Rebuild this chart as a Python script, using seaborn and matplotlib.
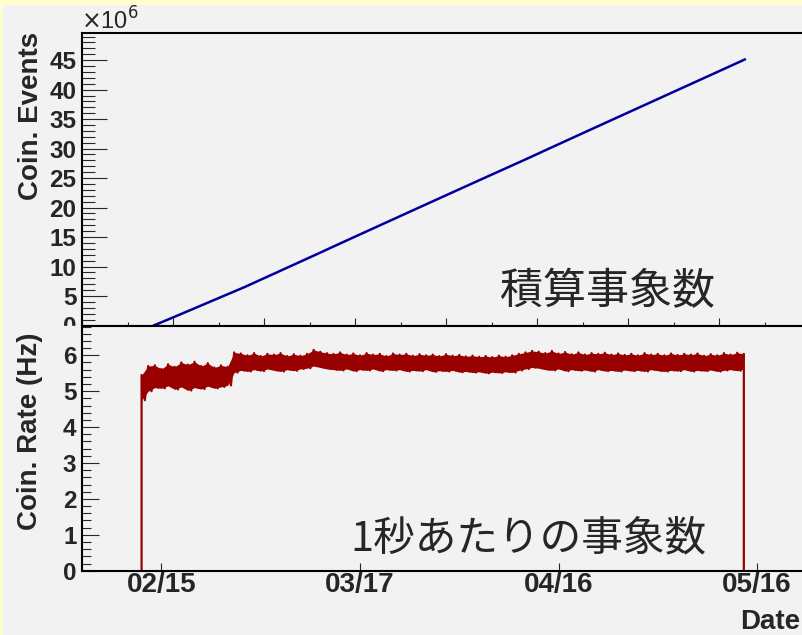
import numpy as np
import pandas as pd
import matplotlib
matplotlib.use("Agg")
import matplotlib.pyplot as plt
from matplotlib.patches import Rectangle
from matplotlib.ticker import MultipleLocator
import seaborn as sns

# ---- data -------------------------------------------------------------
start_day = "2015-02-12"
# daily upper / lower excursion of the coincidence rate (Hz)
rate_hi = [5.45, 5.70, 5.72, 5.62, 5.75, 5.68, 5.80, 5.74, 5.82, 5.70,
           5.78, 5.66, 5.72, 5.68, 6.08, 6.05, 6.00, 6.06, 5.98, 6.04,
           6.02, 6.06, 5.98, 6.03, 5.99, 6.04, 6.15, 6.10, 6.06, 6.04,
           6.08, 6.02, 6.05, 6.00, 6.06, 6.02, 6.04, 5.98, 6.05, 6.02,
           6.04, 5.99, 6.03, 6.00, 6.02, 5.98, 6.03, 5.99, 6.01, 5.97,
           5.99, 5.96, 5.98, 5.95, 5.99, 5.96, 6.00, 6.04, 6.08, 6.12,
           6.10, 6.06, 6.12, 6.05, 6.09, 6.03, 6.08, 6.02, 6.06, 6.04,
           6.07, 6.02, 6.05, 6.01, 6.04, 6.00, 6.06, 6.02, 6.04, 6.00,
           6.05, 6.01, 6.04, 6.02, 6.05, 5.99, 6.03, 6.00, 6.06, 6.02,
           6.07, 6.04]
rate_lo = [4.75, 5.00, 5.10, 5.08, 5.15, 5.05, 5.12, 5.02, 5.10, 5.06,
           5.14, 5.08, 5.12, 5.16, 5.52, 5.58, 5.55, 5.60, 5.56, 5.62,
           5.58, 5.55, 5.60, 5.57, 5.62, 5.64, 5.70, 5.66, 5.62, 5.60,
           5.58, 5.62, 5.56, 5.60, 5.58, 5.62, 5.56, 5.60, 5.58, 5.60,
           5.55, 5.58, 5.56, 5.60, 5.54, 5.57, 5.55, 5.58, 5.53, 5.55,
           5.52, 5.54, 5.50, 5.53, 5.51, 5.54, 5.52, 5.58, 5.62, 5.66,
           5.64, 5.60, 5.58, 5.62, 5.56, 5.60, 5.57, 5.59, 5.55, 5.60,
           5.56, 5.58, 5.55, 5.59, 5.56, 5.58, 5.55, 5.60, 5.57, 5.55,
           5.58, 5.56, 5.60, 5.55, 5.58, 5.56, 5.59, 5.55, 5.58, 5.60,
           5.57, 5.62]
tick_dates = ["2015-02-15", "2015-03-17", "2015-04-16", "2015-05-16"]
tick_labels = ["02/15", "03/17", "04/16", "05/16"]
events_ticks = [0, 5, 10, 15, 20, 25, 30, 35, 40, 45]
rate_ticks = [0, 1, 2, 3, 4, 5, 6]
label_events = "積算事象数"
label_rate = "1秒あたりの事象数"

# ---- derived series ---------------------------------------------------
days = pd.date_range(start_day, periods=len(rate_hi), freq="D")
hi = np.asarray(rate_hi)
lo = np.asarray(rate_lo)
daily_mean = (hi + lo) / 2.0
# accumulated number of coincidences at each midnight
events = np.concatenate([[0.0], np.cumsum(daily_mean[:-1] * 86400.0)])
df_events = pd.DataFrame({"date": days, "events": events / 1e6})

# rate trace swinging between the daily upper and lower values,
# dropping to zero outside the run period
t_pts, r_pts = [days[0]], [0.0]
for i in range(len(days)):
    t_pts.append(days[i]); r_pts.append(hi[i])
    if i < len(days) - 1:
        t_pts.append(days[i] + pd.Timedelta(hours=12)); r_pts.append(lo[i])
t_pts.append(days[-1]); r_pts.append(0.0)
df_rate = pd.DataFrame({"date": t_pts, "rate": r_pts})

# ---- style ------------------------------------------------------------
sns.set_style("ticks")
plt.rcParams["font.family"] = ["Liberation Sans", "Noto Sans CJK JP"]
plt.rcParams["axes.linewidth"] = 1.5

W, H = 802, 635
fig = plt.figure(figsize=(W / 100, H / 100), dpi=100, facecolor="#ffffcc")


def fx(px):
    return px / W


def fy(py):
    return 1 - py / H


PANEL = "#f2f2f2"
RED = "#990000"
BLUE = "#000099"
fig.patches.append(Rectangle((fx(3), 0), 1, fy(5), transform=fig.transFigure,
                             color=PANEL, zorder=-10))

x_left, x_right = 82, 812
ax1 = fig.add_axes([fx(x_left), fy(325.5), fx(x_right) - fx(x_left), fy(33) - fy(325.5)])
ax2 = fig.add_axes([fx(x_left), fy(570.7), fx(x_right) - fx(x_left), fy(325.5) - fy(570.7)])
ax1.set_zorder(0)
ax2.set_zorder(2)

ref = pd.Timestamp("2015-02-15")
xmin = ref + pd.Timedelta(days=-12.0)
xmax = ref + pd.Timedelta(days=98.3)

for ax in (ax1, ax2):
    ax.set_facecolor(PANEL)
    for s in ax.spines.values():
        s.set_color("black")
        s.set_linewidth(1.5)
    ax.spines["right"].set_visible(False)

# ---- top panel: integrated events -------------------------------------
sns.lineplot(data=df_events, x="date", y="events", ax=ax1, color=BLUE,
             linewidth=1.8, estimator=None, sort=False)
ax1.set_xlim(xmin, xmax)
ax1.set_ylim(0, 49.6)
ax1.set_xticks(pd.date_range(ref - pd.Timedelta(days=14), xmax, freq="14D"))
ax1.set_xticks(pd.date_range(ref - pd.Timedelta(days=7), xmax, freq="7D"), minor=True)
ax1.tick_params(axis="x", which="major", direction="in", length=5.5, width=0.8,
                labelbottom=False)
ax1.tick_params(axis="x", which="minor", direction="in", length=3, width=0.8)
ax1.set_yticks(events_ticks)
ax1.yaxis.set_minor_locator(MultipleLocator(1))
ax1.tick_params(axis="y", which="major", direction="in", length=18, width=0.8,
                labelsize=17.5, pad=4)
ax1.tick_params(axis="y", which="minor", direction="in", length=9, width=0.8)
for lbl in ax1.get_yticklabels():
    lbl.set_fontweight("bold")
ax1.set_xlabel("")
ax1.set_ylabel("")

# ---- bottom panel: rate ----------------------------------------------
ax2.fill_between(days, lo, hi, color=RED, linewidth=0)
sns.lineplot(data=df_rate, x="date", y="rate", ax=ax2, color=RED,
             linewidth=1.6, estimator=None, sort=False)
ax2.set_xlim(xmin, xmax)
ax2.set_ylim(0, 6.83)
ax2.set_xticks(pd.to_datetime(tick_dates))
ax2.set_xticklabels(tick_labels, fontsize=20, fontweight="bold")
ax2.tick_params(axis="x", which="major", direction="in", length=6, width=0.8, pad=1)
ax2.set_yticks(rate_ticks)
ax2.set_yticklabels([str(v) for v in rate_ticks])
ax2.yaxis.set_minor_locator(MultipleLocator(0.2))
ax2.tick_params(axis="y", which="major", direction="in", length=12.5, width=0.8,
                labelsize=17.5, pad=4)
ax2.tick_params(axis="y", which="minor", direction="in", length=6.5, width=0.8)
for lbl in ax2.get_yticklabels():
    lbl.set_fontweight("bold")
ax2.set_xlabel("")
ax2.set_ylabel("")

# lower pad covers the lower half of the upper panel's zero label
fig.patches.append(Rectangle((fx(3), fy(345)), fx(x_left) - fx(3), fy(325.5) - fy(345),
                             transform=fig.transFigure, color=PANEL, zorder=1))

# ---- labels -----------------------------------------------------------
fig.text(fx(31), fy(32), "Coin. Events", rotation=90, ha="center", va="top",
         fontsize=20, fontweight="bold", zorder=5)
fig.text(fx(30), fy(332), "Coin. Rate (Hz)", rotation=90, ha="center", va="top",
         fontsize=20, fontweight="bold", zorder=5)
fig.text(fx(800), fy(622), "Date", ha="right", va="center",
         fontsize=20, fontweight="bold", zorder=5)
fig.text(fx(81), fy(30), r"$\times$10$^{6}$", ha="left", va="baseline",
         fontsize=17, zorder=5)
fig.text(fx(500), fy(292.5), label_events, ha="left", va="center",
         fontsize=31, family=["Noto Sans CJK JP"], zorder=5)
fig.text(fx(350), fy(539), label_rate, ha="left", va="center",
         fontsize=30, family=["Noto Sans CJK JP"], zorder=5)

fig.savefig("out.png", dpi=100, facecolor=fig.get_facecolor())
